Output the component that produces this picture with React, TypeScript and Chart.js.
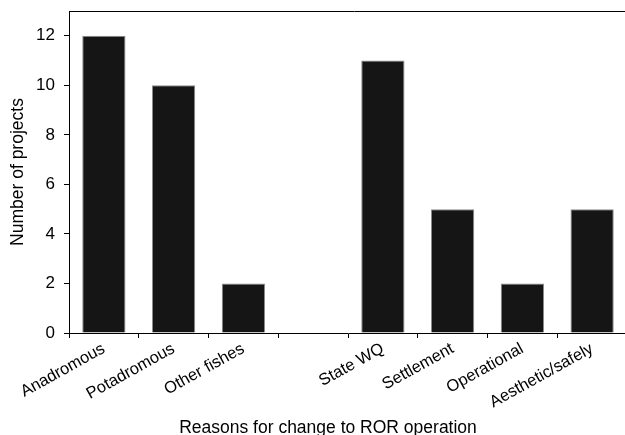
import React, { useEffect, useRef } from "react";
import { Chart, registerables } from "chart.js";

Chart.register(...registerables);

const categories = ["Anadromous", "Potadromous", "Other fishes", "", "State WQ", "Settlement", "Operational", "Aesthetic/safely"];
const projects: (number | null)[] = [12, 10, 2, null, 11, 5, 2, 5];
const yTicks = [0, 2, 4, 6, 8, 10, 12];
const yMax = 13;
const xTitle = "Reasons for change to ROR operation";
const yTitle = "Number of projects";

const FONT = "'Liberation Sans', Arial, Helvetica, sans-serif";

export default function App() {
  const ref = useRef<HTMLCanvasElement | null>(null);
  useEffect(() => {
    document.body.style.margin = "0";
    document.body.style.overflow = "hidden";
    const ctx = ref.current!;
    const topLine = {
      id: "topLine",
      afterDraw(chart: any) {
        const c = chart.ctx;
        const a = chart.chartArea;
        c.save();
        c.strokeStyle = "#000";
        c.lineWidth = 1;
        c.beginPath();
        c.moveTo(a.left, a.top + 0.5);
        c.lineTo(chart.width, a.top + 0.5);
        c.stroke();
        c.fillStyle = "#000";
        c.font = `17.5px ${FONT}`;
        c.textAlign = "center";
        c.textBaseline = "alphabetic";
        c.fillText(xTitle, a.left + 259, chart.height - 2);
        c.restore();
      },
    };
    const chart = new Chart(ctx, {
      type: "bar",
      data: {
        labels: categories,
        datasets: [
          {
            data: projects,
            backgroundColor: "#151515",
            borderColor: "#8a8a8a",
            borderWidth: 1,
            categoryPercentage: 1,
            barPercentage: 0.62,
          },
        ],
      },
      options: {
        animation: false,
        responsive: false,
        layout: { padding: { top: 11, right: 13, left: 0, bottom: 0 } },
        plugins: { legend: { display: false }, tooltip: { enabled: false } },
        scales: {
          x: {
            grid: { drawOnChartArea: false, drawTicks: true, tickLength: 5, color: "#000" },
            border: { display: true, color: "#000" },
            ticks: {
              color: "#000",
              font: { family: FONT, size: 16.5 },
              minRotation: 29,
              maxRotation: 29,
              padding: 1,
              autoSkip: false,
            },
            afterFit(scale: any) {
              scale.height = 102;
              scale.paddingLeft = 0;
              scale.paddingRight = 0;
            },
          },
          y: {
            min: 0,
            max: yMax,
            grid: { drawOnChartArea: false, drawTicks: true, tickLength: 5, color: "#000" },
            border: { display: true, color: "#000" },
            afterBuildTicks(scale: any) {
              scale.ticks = yTicks.map((v) => ({ value: v }));
            },
            ticks: {
              color: "#000",
              font: { family: FONT, size: 17 },
              padding: 9,
            },
            title: {
              display: true,
              text: yTitle,
              color: "#000",
              font: { family: FONT, size: 17.5 },
              padding: { top: 8, bottom: 0 },
            },
            afterFit(scale: any) {
              scale.width = 69;
              scale.paddingTop = 0;
              scale.paddingBottom = 0;
            },
          },
        },
      },
      plugins: [topLine],
    });
    return () => chart.destroy();
  }, []);
  return (
    <div style={{ position: "absolute", left: 0, top: 0, width: 640, height: 435 }}>
      <canvas ref={ref} width={640} height={435} />
    </div>
  );
}
